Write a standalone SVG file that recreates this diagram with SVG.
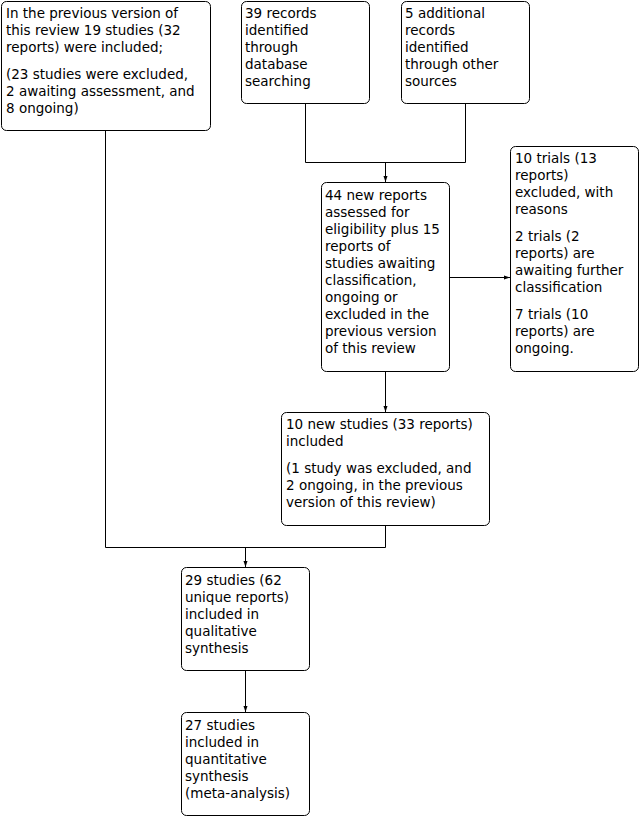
<svg xmlns="http://www.w3.org/2000/svg" width="641" height="817" viewBox="0 0 641 817">
<style>
.box{fill:#fff;stroke:#000;stroke-width:1}
.t{font-family:"DejaVu Sans",Verdana,sans-serif;font-size:13.5px;fill:#000}
.c{fill:none;stroke:#000;stroke-width:1}
</style>
<defs>
<marker id="ah" viewBox="0 0 10 10" refX="10" refY="5" markerWidth="6" markerHeight="5" orient="auto" markerUnits="userSpaceOnUse" preserveAspectRatio="none">
<path d="M0,1 L10,5 L0,9 z" fill="#000"/>
</marker>
</defs>
<rect width="641" height="817" fill="#fff"/>
<g id="connectors">
<path class="c" d="M305.5,103 V162.5 H465.5 V103"/>
<path class="c" d="M385.5,162.5 V182" marker-end="url(#ah)"/>
<path class="c" d="M449,277.5 H510" marker-end="url(#ah)"/>
<path class="c" d="M385.5,371 V412" marker-end="url(#ah)"/>
<path class="c" d="M105.5,130 V547.5 H385.5 V525"/>
<path class="c" d="M245.5,547.5 V567" marker-end="url(#ah)"/>
<path class="c" d="M245.5,670 V712" marker-end="url(#ah)"/>
</g>
<g id="prev">
<rect class="box" x="1.5" y="1.5" width="209" height="129" rx="5"/>
<text class="t" x="6" y="18">In the previous version of</text>
<text class="t" x="6" y="35">this review 19 studies (32</text>
<text class="t" x="6" y="52">reports) were included;</text>
<text class="t" x="6" y="79">(23 studies were excluded,</text>
<text class="t" x="6" y="96">2 awaiting assessment, and</text>
<text class="t" x="6" y="113">8 ongoing)</text>
</g>
<g id="db">
<rect class="box" x="241.5" y="1.5" width="128" height="102" rx="5"/>
<text class="t" x="245" y="18">39 records</text>
<text class="t" x="245" y="35">identified</text>
<text class="t" x="245" y="52">through</text>
<text class="t" x="245" y="69">database</text>
<text class="t" x="245" y="86">searching</text>
</g>
<g id="other">
<rect class="box" x="401.5" y="1.5" width="128" height="102" rx="5"/>
<text class="t" x="405" y="18">5 additional</text>
<text class="t" x="405" y="35">records</text>
<text class="t" x="405" y="52">identified</text>
<text class="t" x="405" y="69">through other</text>
<text class="t" x="405" y="86">sources</text>
</g>
<g id="assessed">
<rect class="box" x="321.5" y="182.5" width="128" height="189" rx="5"/>
<text class="t" x="325" y="200">44 new reports</text>
<text class="t" x="325" y="217">assessed for</text>
<text class="t" x="325" y="234">eligibility plus 15</text>
<text class="t" x="325" y="251">reports of</text>
<text class="t" x="325" y="268">studies awaiting</text>
<text class="t" x="325" y="285">classification,</text>
<text class="t" x="325" y="302">ongoing or</text>
<text class="t" x="325" y="319">excluded in the</text>
<text class="t" x="325" y="336">previous version</text>
<text class="t" x="325" y="353">of this review</text>
</g>
<g id="excluded">
<rect class="box" x="510.5" y="146.5" width="128" height="225" rx="5"/>
<text class="t" x="515" y="163">10 trials (13</text>
<text class="t" x="515" y="180">reports)</text>
<text class="t" x="515" y="197">excluded, with</text>
<text class="t" x="515" y="214">reasons</text>
<text class="t" x="515" y="241">2 trials (2</text>
<text class="t" x="515" y="258">reports) are</text>
<text class="t" x="515" y="275">awaiting further</text>
<text class="t" x="515" y="292">classification</text>
<text class="t" x="515" y="319">7 trials (10</text>
<text class="t" x="515" y="336">reports) are</text>
<text class="t" x="515" y="353">ongoing.</text>
</g>
<g id="newstudies">
<rect class="box" x="281.5" y="412.5" width="208" height="113" rx="5"/>
<text class="t" x="286" y="429">10 new studies (33 reports)</text>
<text class="t" x="286" y="446">included</text>
<text class="t" x="286" y="473">(1 study was excluded, and</text>
<text class="t" x="286" y="490">2 ongoing, in the previous</text>
<text class="t" x="286" y="507">version of this review)</text>
</g>
<g id="qualitative">
<rect class="box" x="181.5" y="567.5" width="128" height="103" rx="5"/>
<text class="t" x="185" y="585">29 studies (62</text>
<text class="t" x="185" y="602">unique reports)</text>
<text class="t" x="185" y="619">included in</text>
<text class="t" x="185" y="636">qualitative</text>
<text class="t" x="185" y="653">synthesis</text>
</g>
<g id="quantitative">
<rect class="box" x="181.5" y="712.5" width="128" height="103" rx="5"/>
<text class="t" x="185" y="730">27 studies</text>
<text class="t" x="185" y="747">included in</text>
<text class="t" x="185" y="764">quantitative</text>
<text class="t" x="185" y="781">synthesis</text>
<text class="t" x="185" y="798">(meta-analysis)</text>
</g>
</svg>
